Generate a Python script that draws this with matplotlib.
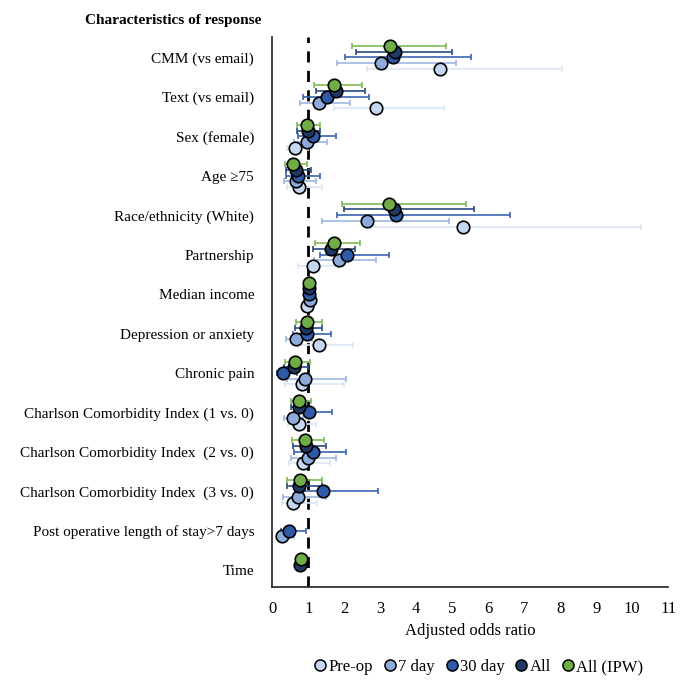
import numpy as np
import matplotlib
matplotlib.use("Agg")
import matplotlib.pyplot as plt
from matplotlib.lines import Line2D

plt.rcParams['font.family'] = ['Liberation Serif', 'DejaVu Serif']

categories = ["CMM (vs email)", "Text (vs email)", "Sex (female)", "Age \u226575",
              "Race/ethnicity (White)", "Partnership", "Median income",
              "Depression or anxiety", "Chronic pain",
              "Charlson Comorbidity Index (1 vs. 0)",
              "Charlson Comorbidity Index  (2 vs. 0)",
              "Charlson Comorbidity Index  (3 vs. 0)",
              "Post operative length of stay>7 days", "Time"]

series_names = ["Pre-op", "7 day", "30 day", "All", "All (IPW)"]
nan = np.nan

preop_or = [4.65, 2.88, 0.62, 0.74, 5.31, 1.14, 0.96, 1.29, 0.83, 0.74, 0.85, 0.58, nan, nan]
preop_lo = [2.64, 1.72, 0.40, 0.40, 2.73, 0.71, 0.94, 0.72, 0.35, 0.43, 0.47, 0.26, nan, nan]
preop_hi = [8.05, 4.78, 0.98, 1.39, 10.25, 1.82, 0.99, 2.25, 2.00, 1.22, 1.60, 1.25, nan, nan]

d7_or = [3.01, 1.31, 0.97, 0.67, 2.62, 1.85, 1.04, 0.67, 0.90, 0.57, 0.98, 0.71, 0.28, nan]
d7_lo = [1.79, 0.78, 0.61, 0.33, 1.39, 1.17, 1.02, 0.37, 0.40, 0.34, 0.51, 0.31, 0.12, nan]
d7_hi = [5.10, 2.16, 1.53, 1.21, 4.92, 2.88, 1.06, 1.10, 2.06, 0.86, 1.77, 1.49, 0.61, nan]

d30_or = [3.35, 1.53, 1.12, 0.71, 3.44, 2.07, 1.03, 0.96, 0.29, 1.02, 1.12, 1.40, 0.47, nan]
d30_lo = [2.02, 0.85, 0.71, 0.37, 1.79, 1.33, 1.01, 0.57, 0.12, 0.61, 0.60, 0.75, 0.23, nan]
d30_hi = [5.51, 2.69, 1.77, 1.32, 6.60, 3.24, 1.05, 1.63, 0.70, 1.67, 2.05, 2.95, 0.94, nan]

all_or = [3.42, 1.77, 0.98, 0.66, 3.37, 1.62, 1.03, 0.95, 0.60, 0.75, 0.95, 0.75, nan, 0.78]
all_lo = [2.34, 1.21, 0.68, 0.39, 1.99, 1.13, 1.01, 0.62, 0.33, 0.51, 0.57, 0.40, nan, 0.76]
all_hi = [4.99, 2.59, 1.33, 1.08, 5.61, 2.29, 1.05, 1.37, 0.99, 0.94, 1.49, 1.37, nan, 0.80]

ipw_or = [3.27, 1.72, 0.96, 0.59, 3.24, 1.72, 1.03, 0.96, 0.62, 0.75, 0.90, 0.77, nan, 0.80]
ipw_lo = [2.21, 1.15, 0.68, 0.35, 1.93, 1.20, 1.01, 0.65, 0.35, 0.51, 0.56, 0.40, nan, 0.78]
ipw_hi = [4.82, 2.50, 1.32, 0.97, 5.39, 2.44, 1.05, 1.39, 1.04, 1.08, 1.43, 1.39, nan, 0.82]

x_ticks = list(range(0, 12))

series = [
    (preop_or, preop_lo, preop_hi, "#C5D6F0", "#DCE6F6", 2),
    (d7_or, d7_lo, d7_hi, "#8EAADB", "#9DB6E2", 1),
    (d30_or, d30_lo, d30_hi, "#2E5AA8", "#3A64B0", 0),
    (all_or, all_lo, all_hi, "#1F3864", "#2B4A80", -1),
    (ipw_or, ipw_lo, ipw_hi, "#70AD47", "#7DBA55", -2),
]

fig = plt.figure(figsize=(6.91, 6.90), dpi=100)
ax = fig.add_axes([0.394, 0.149, 0.573, 0.797])

ypos = np.arange(len(categories))
step = 0.145
for (orv, lo, hi, face, ecol, k), name in zip(series, series_names):
    orv = np.array(orv, float); lo = np.array(lo, float); hi = np.array(hi, float)
    y = ypos + k * step
    ax.errorbar(orv, y, xerr=[orv - lo, hi - orv], fmt='none', ecolor=ecol,
                elinewidth=1.2, capsize=2.5, capthick=1.2, zorder=2)
    ax.plot(orv, y, 'o', markersize=9, markerfacecolor=face,
            markeredgecolor='black', markeredgewidth=1.2, zorder=3, label=name)

ax.axvline(1, color='black', linestyle=(0, (4, 3)), linewidth=2, zorder=1)

ax.set_xlim(0, 11)
ax.set_ylim(13.43, -0.51)
ax.set_xticks(x_ticks)
ax.set_xticklabels([str(t) for t in x_ticks], fontsize=12)
ax.set_yticks(ypos)
ax.set_yticklabels(categories, fontsize=11)
ax.tick_params(axis='y', length=0, pad=13)
ax.tick_params(axis='x', length=0, pad=10)
for s in ['top', 'right']:
    ax.spines[s].set_visible(False)
for s in ['left', 'bottom']:
    ax.spines[s].set_linewidth(1.2)
    ax.spines[s].set_color('#222222')

ax.set_xlabel("Adjusted odds ratio", fontsize=12, labelpad=4)

fig.text(0.378, 0.971, "Characteristics of response", ha='right', va='center',
         fontsize=11, fontweight='bold')

handles = [Line2D([0], [0], marker='o', linestyle='none', markersize=8,
                  markerfacecolor=s[3], markeredgecolor='black', markeredgewidth=1.1)
           for s in series]
fig.legend(handles, series_names, loc='center', bbox_to_anchor=(0.69, 0.033),
           ncol=5, frameon=False, fontsize=12, handletextpad=-0.1,
           columnspacing=0.4, handlelength=1.2)

fig.savefig("out.png", dpi=100)
